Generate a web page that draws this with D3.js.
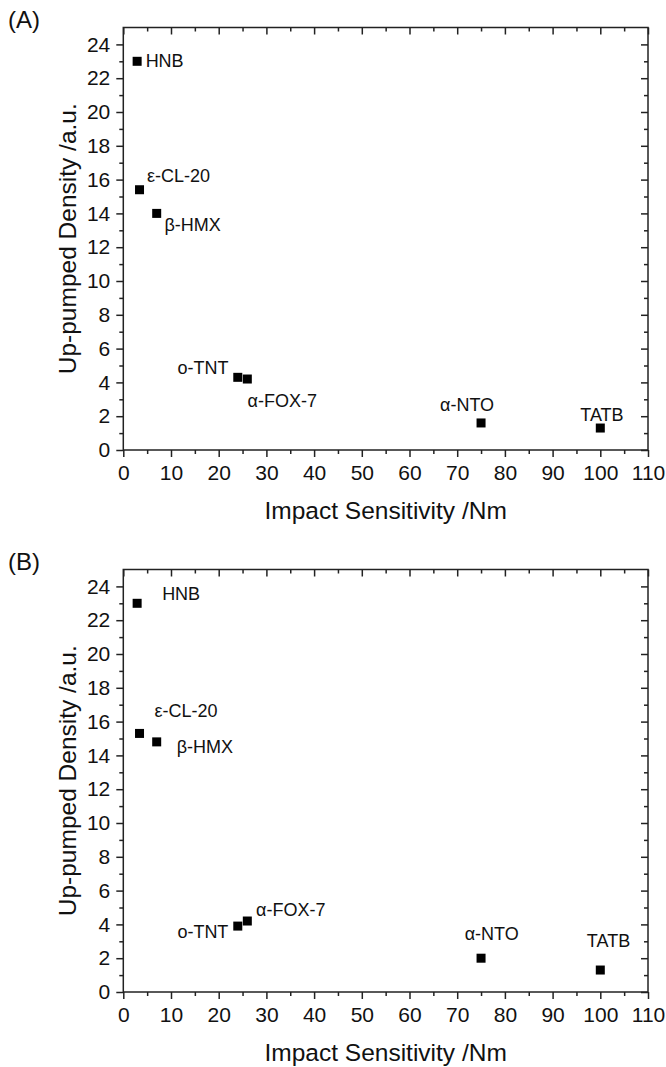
<!DOCTYPE html>
<html>
<head>
<meta charset="utf-8">
<script src="https://cdn.jsdelivr.net/npm/d3@7"></script>
<style>
  body { margin: 0; background: #fff; }
  svg text { font-family: "Liberation Sans", Arial, sans-serif; fill: #111; }
</style>
</head>
<body>
<script>
// Compounds and their impact sensitivity (Nm)
const compounds = ["HNB", "ε-CL-20", "β-HMX", "o-TNT", "α-FOX-7", "α-NTO", "TATB"];
const impactSensitivity = [2.9, 3.4, 7, 24, 26, 75, 100];

// Up-pumped density (a.u.) for the two panels
const densityA = [23.0, 15.4, 14.0, 4.3, 4.2, 1.6, 1.3];
const densityB = [23.0, 15.3, 14.8, 3.9, 4.2, 2.0, 1.3];

const panelLetters = ["(A)", "(B)"];
const xTitle = "Impact Sensitivity /Nm";
const yTitle = "Up-pumped Density /a.u.";

const xMajorTicks = d3.range(0, 111, 10);
const xMinorTicks = d3.range(5, 110, 10);
const yMajorTicks = d3.range(0, 25, 2);
const yMinorTicks = d3.range(1, 25, 2);

// Annotation placement per compound: [dx, dy, anchor] relative to the marker
const labelPlacementA = [
  [8.5, 6, "start"], [7.4, -7.6, "start"], [7.7, 17.7, "start"],
  [-9.3, -3.3, "end"], [0.3, 28, "start"], [-14, -12, "middle"], [1.6, -7.4, "middle"]
];
const labelPlacementB = [
  [25, -3.8, "start"], [15, -16.4, "start"], [20, 11.3, "start"],
  [-9.4, 12.4, "end"], [8.8, -5.1, "start"], [10.7, -18.6, "middle"], [8.2, -23, "middle"]
];

const W = 666, H = 1067;
const svg = d3.select("body").append("svg").attr("width", W).attr("height", H);

const plotLeft = 123.3, plotRight = 648;
const plotHeight = 422.5;
const panelOffset = 542;
const firstBottom = 450;

const x = d3.scaleLinear().domain([0, 110]).range([plotLeft, plotRight]);

function drawPanel(idx, density, placement) {
  const bottom = firstBottom + idx * panelOffset;
  const top = bottom - plotHeight;
  const y = d3.scaleLinear().domain([0, 25]).range([bottom, top]);
  const g = svg.append("g");

  const axisColor = "#222";
  const styleAxis = sel => {
    sel.select(".domain").remove();
    sel.selectAll("line").attr("stroke", axisColor).attr("stroke-width", 1.5);
    sel.selectAll("text").attr("font-size", 21).attr("fill", "#111")
      .style("font-family", "'Liberation Sans', Arial, sans-serif");
  };

  // Bottom axis: outward ticks with labels
  g.append("g").attr("transform", `translate(0,${bottom})`)
    .call(d3.axisBottom(x).tickValues(xMajorTicks).tickSize(7).tickPadding(8).tickFormat(d3.format("d")))
    .call(styleAxis);
  g.append("g").attr("transform", `translate(0,${bottom})`)
    .call(d3.axisBottom(x).tickValues(xMinorTicks).tickSize(4).tickFormat(""))
    .call(styleAxis);
  // Top axis: inward mirror ticks
  g.append("g").attr("transform", `translate(0,${top})`)
    .call(d3.axisBottom(x).tickValues(xMajorTicks).tickSize(7).tickFormat(""))
    .call(styleAxis);
  g.append("g").attr("transform", `translate(0,${top})`)
    .call(d3.axisBottom(x).tickValues(xMinorTicks).tickSize(4).tickFormat(""))
    .call(styleAxis);

  // Left axis: outward ticks with labels
  g.append("g").attr("transform", `translate(${plotLeft},0)`)
    .call(d3.axisLeft(y).tickValues(yMajorTicks).tickSize(7).tickPadding(6).tickFormat(d3.format("d")))
    .call(styleAxis);
  g.append("g").attr("transform", `translate(${plotLeft},0)`)
    .call(d3.axisLeft(y).tickValues(yMinorTicks).tickSize(4).tickFormat(""))
    .call(styleAxis);
  // Right axis: inward mirror ticks
  g.append("g").attr("transform", `translate(${plotRight},0)`)
    .call(d3.axisLeft(y).tickValues(yMajorTicks).tickSize(7).tickFormat(""))
    .call(styleAxis);
  g.append("g").attr("transform", `translate(${plotRight},0)`)
    .call(d3.axisLeft(y).tickValues(yMinorTicks).tickSize(4).tickFormat(""))
    .call(styleAxis);

  // Frame
  g.append("rect")
    .attr("x", plotLeft).attr("y", top)
    .attr("width", plotRight - plotLeft).attr("height", bottom - top)
    .attr("fill", "none").attr("stroke", "#222").attr("stroke-width", 1.5);

  // Markers
  const s = 9;
  g.selectAll("rect.pt").data(compounds).join("rect")
    .attr("class", "pt")
    .attr("x", (d, i) => x(impactSensitivity[i]) - s / 2)
    .attr("y", (d, i) => y(density[i]) - s / 2)
    .attr("width", s).attr("height", s)
    .attr("fill", "#000");

  // Compound labels
  g.selectAll("text.lbl").data(compounds).join("text")
    .attr("class", "lbl")
    .attr("x", (d, i) => x(impactSensitivity[i]) + placement[i][0])
    .attr("y", (d, i) => y(density[i]) + placement[i][1])
    .attr("text-anchor", (d, i) => placement[i][2])
    .attr("font-size", 18)
    .text(d => d);

  // Axis titles
  g.append("text")
    .attr("x", (plotLeft + plotRight) / 2)
    .attr("y", bottom + 69)
    .attr("text-anchor", "middle")
    .attr("font-size", 24.5)
    .text(xTitle);
  g.append("text")
    .attr("transform", `translate(76,${(top + bottom) / 2}) rotate(-90)`)
    .attr("text-anchor", "middle")
    .attr("font-size", 24.5)
    .text(yTitle);

  // Panel letter
  g.append("text")
    .attr("x", 8)
    .attr("y", 28 + idx * panelOffset)
    .attr("font-size", 24)
    .text(panelLetters[idx]);
}

drawPanel(0, densityA, labelPlacementA);
drawPanel(1, densityB, labelPlacementB);
</script>
</body>
</html>
